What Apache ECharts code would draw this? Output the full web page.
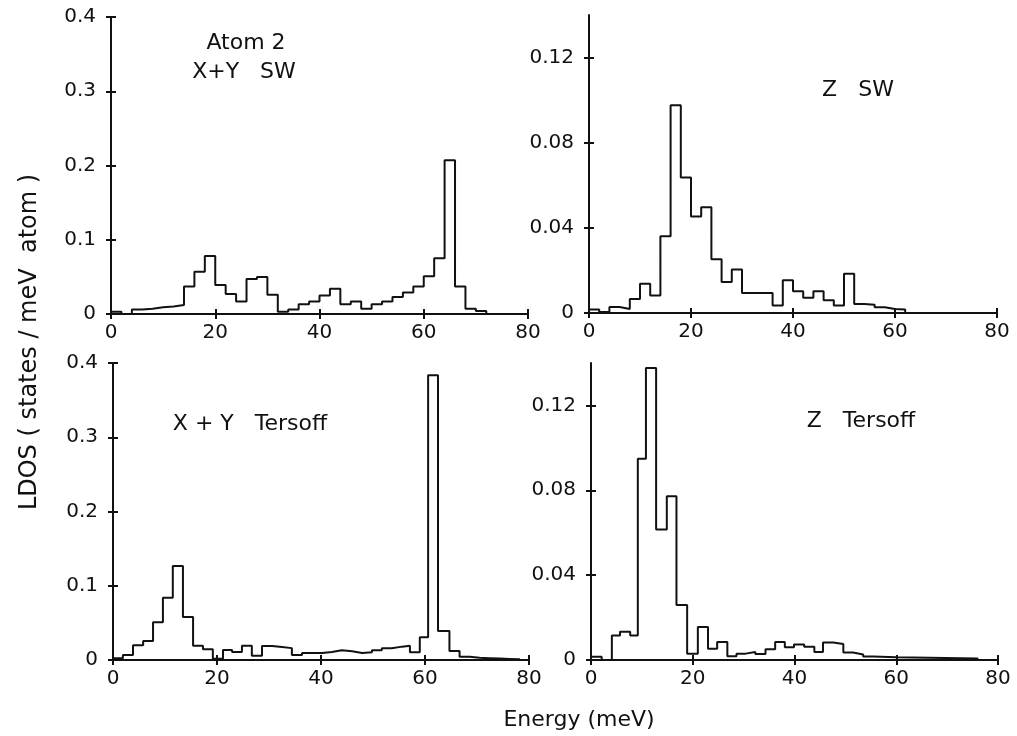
<!DOCTYPE html>
<html>
<head>
<meta charset="utf-8">
<script src="https://cdn.jsdelivr.net/npm/echarts@6/dist/echarts.min.js"></script>
<style>
html,body{margin:0;padding:0;background:#fff;}
#c{width:1017px;height:736px;}
</style>
</head>
<body>
<div id="c"></div>
<script>
// ---------- data (energy bin edges in meV, LDOS per bin) ----------
var xTicks = [0, 20, 40, 60, 80];
var yTicksLeft = [0, 0.1, 0.2, 0.3, 0.4];
var yTicksRight = [0, 0.04, 0.08, 0.12];

// Panel 1: Atom 2, X+Y, SW
var edgesXYSW = [0,2,4,6,8,10,12,14,16,18,20,22,24,26,28,30,32,34,36,38,40,42,44,46,48,50,52,54,56,58,60,62,64,66,68,70,72];
var ldosXYSW = [0.003,0,0.006,0.007,0.009,0.010,0.012,0.037,0.057,0.078,0.039,0.027,0.017,0.047,0.050,0.026,0.003,0.006,0.013,0.017,0.025,0.034,0.013,0.017,0.007,0.013,0.017,0.023,0.029,0.037,0.051,0.075,0.207,0.037,0.007,0.004];

// Panel 2: Z, SW
var edgesZSW = [0,2,4,6,8,10,12,14,16,18,20,22,24,26,28,30,32,34,36,38,40,42,44,46,48,50,52,54,56,58,60,62];
var ldosZSW = [0.0016,0.0005,0.0028,0.0019,0.0066,0.0137,0.0082,0.036,0.0976,0.0637,0.0453,0.0497,0.0253,0.0146,0.0204,0.0094,0.0094,0.0094,0.0035,0.0154,0.0102,0.0072,0.0102,0.006,0.0035,0.0184,0.0042,0.0039,0.0027,0.0019,0.0016];

// Panel 3: X+Y, Tersoff
var edgesXYT = [0,1.9,3.85,5.8,7.7,9.6,11.5,13.45,15.4,17.3,19.2,21.15,22.9,24.8,26.7,28.65,30.6,32.5,34.4,36.35,38.3,40.2,42.1,44.0,46.0,47.9,49.8,51.7,53.6,55.6,57.1,59.0,60.6,62.5,64.7,66.65,68.6,70.5,72.4,74.4,76.3,78.2];
var ldosXYT = [0.0022,0.0067,0.020,0.0256,0.0507,0.084,0.1266,0.058,0.0193,0.0144,0.0018,0.0135,0.0108,0.0193,0.0058,0.0189,0.0175,0.016,0.0067,0.0094,0.0094,0.0108,0.013,0.0117,0.0094,0.0103,0.013,0.0157,0.018,0.0193,0.0103,0.0305,0.3836,0.039,0.012,0.0045,0.003,0.0025,0.002,0.0015,0.001];

// Panel 4: Z, Tersoff
var edgesZT = [0,2.1,4.1,5.7,7.7,9.2,10.8,12.8,14.9,16.8,18.9,21.0,23.0,24.8,26.8,28.6,30.4,32.3,34.3,36.2,38.1,39.9,41.9,43.9,45.6,47.6,49.6,51.5,53.5,55.5,60.0,76.0];
var ldosZT = [0.0015,0,0.0116,0.0133,0.0116,0.0949,0.1377,0.0615,0.0772,0.0259,0.003,0.0155,0.0053,0.0085,0.0018,0.003,0.0038,0.0028,0.0051,0.0085,0.006,0.0073,0.0062,0.0038,0.0082,0.0075,0.0035,0.0026,0.0016,0.0013,0.0007];

var panelLabels = [["Atom 2", "X+Y   SW"], ["Z   SW"], ["X + Y   Tersoff"], ["Z   Tersoff"]];
var yTitle = "LDOS ( states / meV  atom )";
var xTitle = "Energy (meV)";

// ---------- build ----------
function steps(edges, vals) {
  var pts = [];
  for (var i = 0; i < vals.length; i++) pts.push([edges[i], vals[i]]);
  pts.push([edges[vals.length], 0]);
  return pts;
}
var FONT = "DejaVu Sans";
var INK = "#111111";
var grids = [
  {left: 111, top: 17, width: 417, height: 297},
  {left: 589, top: 15, width: 408, height: 298},
  {left: 113, top: 363, width: 416, height: 297},
  {left: 591, top: 363, width: 407, height: 297}
];
var yMax = [0.4, 0.14, 0.4, 0.14];
var series = [[edgesXYSW, ldosXYSW], [edgesZSW, ldosZSW], [edgesXYT, ldosXYT], [edgesZT, ldosZT]];

function yFmt(v) { if (Math.abs(v) < 1e-9) return "0"; return String(+v.toFixed(2)); }

var xAxes = [], yAxes = [], ser = [];
grids.forEach(function (g, i) {
  var yt = (i % 2 === 0) ? yTicksLeft : yTicksRight;
  xAxes.push({gridIndex: i, type: 'value', min: 0, max: 80, position: 'bottom',
    axisLine: {show: true, onZero: false, lineStyle: {color: INK, width: 2}},
    axisTick: {show: true, inside: false, length: 5, lineStyle: {color: INK, width: 2}, customValues: xTicks},
    axisLabel: {show: true, margin: 9, color: INK, fontFamily: FONT, fontSize: 20, customValues: xTicks},
    splitLine: {show: false}});
  xAxes.push({gridIndex: i, type: 'value', min: 0, max: 80, position: 'bottom',
    axisLine: {show: false, onZero: false},
    axisTick: {show: true, inside: true, length: 5, lineStyle: {color: INK, width: 2}, customValues: xTicks},
    axisLabel: {show: false}, splitLine: {show: false}});
  yAxes.push({gridIndex: i, type: 'value', min: 0, max: yMax[i], position: 'left',
    axisLine: {show: true, onZero: false, lineStyle: {color: INK, width: 2}},
    axisTick: {show: true, inside: false, length: 5, lineStyle: {color: INK, width: 2}, customValues: yt},
    axisLabel: {show: true, margin: 15, color: INK, fontFamily: FONT, fontSize: 20, customValues: yt, formatter: yFmt},
    splitLine: {show: false}});
  yAxes.push({gridIndex: i, type: 'value', min: 0, max: yMax[i], position: 'left',
    axisLine: {show: false, onZero: false},
    axisTick: {show: true, inside: true, length: 5, lineStyle: {color: INK, width: 2}, customValues: yt},
    axisLabel: {show: false}, splitLine: {show: false}});
  ser.push({type: 'line', xAxisIndex: 2 * i, yAxisIndex: 2 * i, step: 'end', symbol: 'none',
    data: steps(series[i][0], series[i][1]),
    lineStyle: {color: INK, width: 2}, silent: true, animation: false});
});

function txt(x, y, s, size, rot) {
  return {type: 'text', x: x, y: y, rotation: rot || 0, silent: true,
    style: {text: s, fill: INK, font: size + 'px "' + FONT + '"', align: 'center', verticalAlign: 'middle'}};
}
var graphics = [
  txt(246, 43, panelLabels[0][0], 22),
  txt(244, 72, panelLabels[0][1], 22),
  txt(858, 90, panelLabels[1][0], 22),
  txt(250, 424, panelLabels[2][0], 22),
  txt(861, 421, panelLabels[3][0], 22),
  txt(30, 342, yTitle, 24, Math.PI / 2),
  txt(579, 720, xTitle, 22)
];

var chart = echarts.init(document.getElementById('c'), null, {renderer: 'canvas'});
chart.setOption({
  animation: false,
  backgroundColor: '#fff',
  grid: grids,
  xAxis: xAxes,
  yAxis: yAxes,
  series: ser,
  graphic: graphics
});
</script>
</body>
</html>
